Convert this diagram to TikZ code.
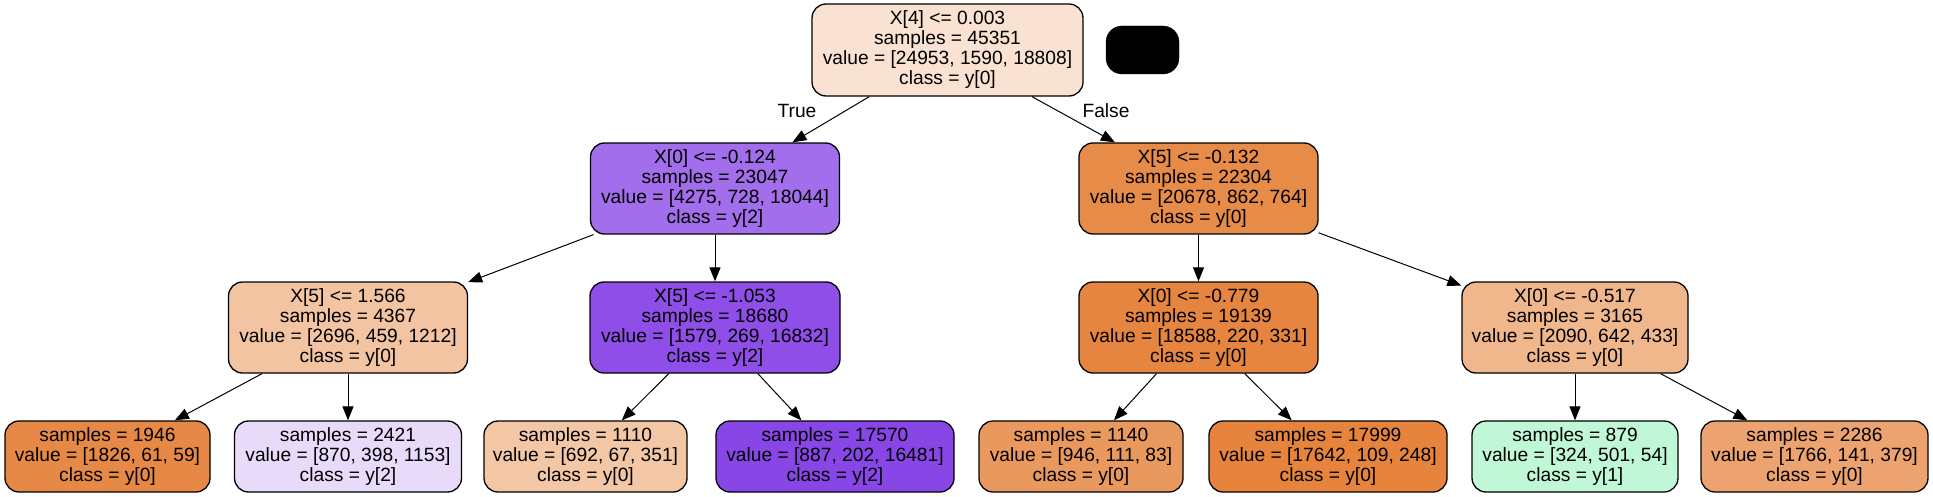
\documentclass[tikz,border=0pt]{standalone}
\usepackage{fontspec}
\setmainfont{Liberation Sans}
\usetikzlibrary{arrows.meta}
\definecolor{croot}{RGB}{249,226,209}
\definecolor{cla}{RGB}{163,110,236}
\definecolor{clb}{RGB}{231,139,72}
\definecolor{cma}{RGB}{243,196,162}
\definecolor{cmb}{RGB}{143,78,232}
\definecolor{cmc}{RGB}{230,133,63}
\definecolor{cmd}{RGB}{240,183,141}
\definecolor{cfa}{RGB}{231,137,70}
\definecolor{cfb}{RGB}{232,219,250}
\definecolor{cfc}{RGB}{243,198,166}
\definecolor{cfd}{RGB}{137,70,231}
\definecolor{cfe}{RGB}{234,153,94}
\definecolor{cff}{RGB}{230,132,61}
\definecolor{cfg}{RGB}{192,247,215}
\definecolor{cfh}{RGB}{236,163,111}
\begin{document}
\begin{tikzpicture}[x=1pt,y=-1pt,
  box/.style={draw=black, line width=1.3pt, rounded corners=14pt, align=center, inner sep=0pt, font=\fontsize{19.2}{20}\selectfont, minimum height=91pt},
  leafbox/.style={box, minimum height=71pt},
  edgeline/.style={draw=black, line width=1pt, -{Triangle[length=14pt,width=11pt]}},
  lbl/.style={font=\fontsize{19.2}{20}\selectfont, inner sep=0pt}
]
\useasboundingbox (0,0) rectangle (1933,497);
% root and legend
\node[box, fill=croot, minimum width=271pt, minimum height=92pt] (root) at (947.5,50) {X[4] <= 0.003\\samples = 45351\\value = [24953, 1590, 18808]\\class = y[0]};
\node[draw=black, fill=black, rounded corners=16pt, minimum width=73pt, minimum height=48pt, inner sep=0pt] (legend) at (1142.5,50) {};
% level 1
\node[box, fill=cla, minimum width=249pt] (la) at (715,188.5) {X[0] <= -0.124\\samples = 23047\\value = [4275, 728, 18044]\\class = y[2]};
\node[box, fill=clb, minimum width=239pt] (lb) at (1198.5,188.5) {X[5] <= -0.132\\samples = 22304\\value = [20678, 862, 764]\\class = y[0]};
% level 2
\node[box, fill=cma, minimum width=239pt] (ma) at (348,327.5) {X[5] <= 1.566\\samples = 4367\\value = [2696, 459, 1212]\\class = y[0]};
\node[box, fill=cmb, minimum width=250pt] (mb) at (715,327.5) {X[5] <= -1.053\\samples = 18680\\value = [1579, 269, 16832]\\class = y[2]};
\node[box, fill=cmc, minimum width=239pt] (mc) at (1198.5,327.5) {X[0] <= -0.779\\samples = 19139\\value = [18588, 220, 331]\\class = y[0]};
\node[box, fill=cmd, minimum width=226pt] (md) at (1575,327.5) {X[0] <= -0.517\\samples = 3165\\value = [2090, 642, 433]\\class = y[0]};
% leaves
\node[leafbox, fill=cfa, minimum width=205pt] (fa) at (107.5,456.5) {samples = 1946\\value = [1826, 61, 59]\\class = y[0]};
\node[leafbox, fill=cfb, minimum width=227pt] (fb) at (348,456.5) {samples = 2421\\value = [870, 398, 1153]\\class = y[2]};
\node[leafbox, fill=cfc, minimum width=203pt] (fc) at (585.5,456.5) {samples = 1110\\value = [692, 67, 351]\\class = y[0]};
\node[leafbox, fill=cfd, minimum width=238pt] (fd) at (835,456.5) {samples = 17570\\value = [887, 202, 16481]\\class = y[2]};
\node[leafbox, fill=cfe, minimum width=204pt] (fe) at (1081,456.5) {samples = 1140\\value = [946, 111, 83]\\class = y[0]};
\node[leafbox, fill=cff, minimum width=238pt] (ff) at (1328,456.5) {samples = 17999\\value = [17642, 109, 248]\\class = y[0]};
\node[leafbox, fill=cfg, minimum width=206pt] (fg) at (1575,456.5) {samples = 879\\value = [324, 501, 54]\\class = y[1]};
\node[leafbox, fill=cfh, minimum width=227pt] (fh) at (1814.5,456.5) {samples = 2286\\value = [1766, 141, 379]\\class = y[0]};
% edges
\draw[edgeline] (root) -- (la);
\draw[edgeline] (root) -- (lb);
\draw[edgeline] (la) -- (ma);
\draw[edgeline] (la) -- (mb);
\draw[edgeline] (lb) -- (mc);
\draw[edgeline] (lb) -- (md);
\draw[edgeline] (ma) -- (fa);
\draw[edgeline] (ma) -- (fb);
\draw[edgeline] (mb) -- (fc);
\draw[edgeline] (mb) -- (fd);
\draw[edgeline] (mc) -- (fe);
\draw[edgeline] (mc) -- (ff);
\draw[edgeline] (md) -- (fg);
\draw[edgeline] (md) -- (fh);
% edge labels
\node[lbl] (ltrue) at (797,111) {True};
\node[lbl] (lfalse) at (1106,111) {False};
\end{tikzpicture}
\end{document}
